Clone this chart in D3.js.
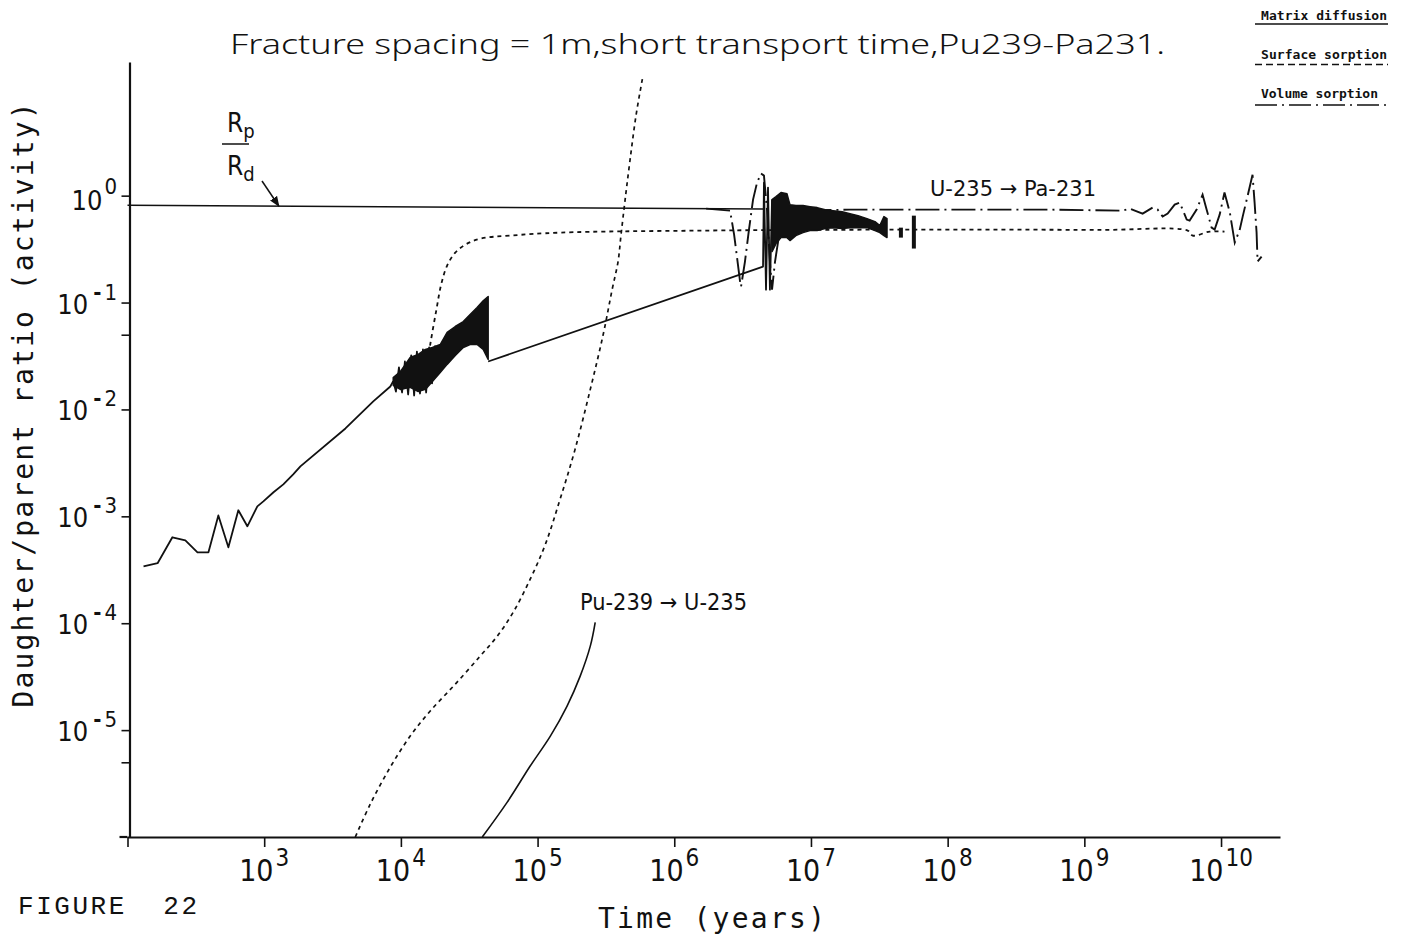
<!DOCTYPE html>
<html>
<head>
<meta charset="utf-8">
<script src="https://cdn.jsdelivr.net/npm/d3@7"></script>
<style>
  body { margin: 0; background: #fff; }
  svg { display: block; }
  text { fill: #111; }
</style>
</head>
<body>
<div id="container"></div>
<script>
/* CONSTANTS AND GLOBALS */
const width = 1407,
  height = 943,
  margin = { top: 62, bottom: 106, left: 127.5, right: 127 }

/* DATA — [time (years), daughter/parent ratio] */
const xTickExponents = [3, 4, 5, 6, 7, 8, 9, 10];
const yTickExponents = [0, -1, -2, -3, -4, -5];
const yMinorTicks = [5e-2, 5e-6];

// matrix diffusion, Pu239 -> Pa231, rising part
const matrixEarly = [
  [1.31e2, 3.41e-4], [1.66e2, 3.64e-4], [2.13e2, 6.37e-4], [2.65e2, 5.97e-4],
  [3.25e2, 4.61e-4], [3.91e2, 4.61e-4], [4.62e2, 1.02e-3], [5.47e2, 5.13e-4],
  [6.47e2, 1.14e-3], [7.53e2, 8.07e-4], [8.91e2, 1.24e-3], [9.86e2, 1.38e-3],
  [1.17e3, 1.68e-3], [1.38e3, 1.99e-3], [1.63e3, 2.47e-3], [1.84e3, 2.93e-3],
  [3.93e3, 6.64e-3], [6.28e3, 1.19e-2], [8.37e3, 1.64e-2], [8.79e3, 1.84e-2]
];
// start of the oscillation, individual swings
const matrixSwings = [
  [8.79e3, 1.84e-2], [9.20e3, 1.47e-2], [9.68e3, 2.47e-2], [1.02e4, 1.44e-2], [1.07e4, 2.81e-2],
  [1.13e4, 1.38e-2], [1.19e4, 3.20e-2], [1.25e4, 1.35e-2], [1.31e4, 3.48e-2], [1.38e4, 1.41e-2],
  [1.45e4, 3.64e-2], [1.53e4, 1.44e-2], [1.61e4, 3.80e-2], [1.69e4, 1.75e-2], [1.78e4, 3.96e-2]
];
// dense oscillation band: [time, low, high]
const matrixBand1 = [
  [8.79e3, 1.68e-2, 1.99e-2], [9.91e3, 1.54e-2, 2.26e-2], [1.17e4, 1.61e-2, 3.06e-2],
  [1.34e4, 1.47e-2, 3.27e-2], [1.51e4, 1.54e-2, 3.64e-2], [1.70e4, 1.83e-2, 3.80e-2],
  [1.94e4, 2.22e-2, 4.05e-2], [2.18e4, 2.64e-2, 5.25e-2], [2.50e4, 3.20e-2, 5.97e-2],
  [2.86e4, 3.80e-2, 6.64e-2], [3.21e4, 4.05e-2, 7.73e-2], [3.61e4, 4.05e-2, 8.98e-2],
  [4.00e4, 3.64e-2, 0.104], [4.35e4, 2.93e-2, 0.114]
];
const matrixLate = [
  [4.35e4, 2.81e-2], [4.46e6, 0.217], [4.53e6, 1.32], [4.69e6, 0.132],
  [4.85e6, 1.19], [5.01e6, 0.132], [5.19e6, 0.918]
];
const matrixBand2 = [
  [5.19e6, 0.300, 0.918], [5.55e6, 0.356, 0.979], [6.04e6, 0.405, 1.07], [6.68e6, 0.405, 1.04],
  [7.02e6, 0.380, 0.824], [7.76e6, 0.423, 0.807], [8.75e6, 0.451, 0.807], [9.84e6, 0.471, 0.789],
  [1.11e7, 0.471, 0.773], [1.27e7, 0.492, 0.740], [1.45e7, 0.502, 0.724], [1.69e7, 0.492, 0.708],
  [1.93e7, 0.502, 0.679], [2.21e7, 0.502, 0.650], [2.57e7, 0.502, 0.610], [2.94e7, 0.471, 0.572],
  [3.19e7, 0.451, 0.525], [3.42e7, 0.423, 0.637], [3.60e7, 0.405, 0.610]
];
const matrixBlobs = [[4.55e7, 0.405, 0.502], [5.66e7, 0.320, 0.650]];

// Rp/Rd reference line
const ratioLine = [[1e2, 0.812], [4.46e6, 0.751]];

// volume sorption, U-235 -> Pa-231
const volumeSorption = [
  [1.71e6, 0.756], [2.56e6, 0.724], [2.74e6, 0.432], [2.88e6, 0.263], [3.03e6, 0.157],
  [3.08e6, 0.141], [3.29e6, 0.242], [3.52e6, 0.481], [3.77e6, 0.918], [4.03e6, 1.32],
  [4.31e6, 1.61], [4.53e6, 1.54], [4.77e6, 0.740], [5.01e6, 0.242], [5.19e6, 0.132],
  [5.46e6, 0.242], [5.84e6, 0.423], [6.46e6, 0.623], [7.64e6, 0.724], [1.93e7, 0.740],
  [1.04e8, 0.740], [5.58e8, 0.740], [1.91e9, 0.724], [2.15e9, 0.756], [2.34e9, 0.724],
  [2.67e9, 0.679], [3.16e9, 0.773], [3.44e9, 0.740], [3.74e9, 0.637], [4.07e9, 0.679],
  [4.58e9, 0.824], [4.98e9, 0.860], [5.24e9, 0.740], [5.61e9, 0.597], [5.89e9, 0.584],
  [6.63e9, 0.740], [7.33e9, 1.02], [7.85e9, 0.740], [8.53e9, 0.502], [8.98e9, 0.481],
  [9.77e9, 0.664], [1.06e10, 1.07], [1.16e10, 0.694], [1.26e10, 0.364], [1.37e10, 0.481],
  [1.44e10, 0.637], [1.56e10, 0.979], [1.70e10, 1.57], [1.76e10, 0.860], [1.82e10, 0.451],
  [1.85e10, 0.242], [1.98e10, 0.269]
];

// surface sorption, Pu239 -> Pa231 plateau
const surfaceDaughter = [
  [1.51e4, 1.99e-2], [1.64e4, 4.05e-2], [1.82e4, 8.61e-2], [1.97e4, 0.147], [2.18e4, 0.222],
  [2.50e4, 0.293], [2.96e4, 0.348], [3.80e4, 0.396], [6.31e4, 0.423], [1.46e5, 0.451],
  [1.55e6, 0.471], [4.48e7, 0.481], [1.30e9, 0.478], [5.70e9, 0.471], [6.20e9, 0.423],
  [8.26e9, 0.461], [1.06e10, 0.461]
];
// surface sorption, Pu-239 -> U-235
const surfaceParent = [
  [4.64e3, 1e-6], [5.97e3, 2.03e-6], [8.37e3, 4.51e-6], [1.17e4, 8.79e-6], [1.64e4, 1.51e-5],
  [2.50e4, 2.69e-5], [3.80e4, 4.92e-5], [5.07e4, 7.57e-5], [6.64e4, 1.27e-4], [8.83e4, 2.58e-4],
  [1.14e5, 5.47e-4], [1.46e5, 1.44e-3], [1.88e5, 4.23e-3], [2.43e5, 1.54e-2], [3.02e5, 5.02e-2],
  [3.51e5, 0.132], [3.88e5, 0.242], [4.08e5, 0.432], [4.37e5, 0.918], [4.75e5, 2.17],
  [5.26e5, 5.71], [5.92e5, 13.5]
];
// matrix diffusion, Pu-239 -> U-235
const matrixParent = [
  [3.94e4, 1e-6], [6.00e4, 2.12e-6], [8.83e4, 4.61e-6], [1.24e5, 8.79e-6],
  [1.64e5, 1.67e-5], [2.05e5, 3.20e-5], [2.43e5, 6.10e-5], [2.64e5, 1.02e-4]
];

const legendItems = ["Matrix diffusion", "Surface sorption", "Volume sorption"];

/* SCALES */
const xScale = d3.scaleLog()
  .domain([1e2, 2.7e10])
  .range([margin.left, width - margin.right])

const yScale = d3.scaleLog()
  .domain([1e-6, 17.8])
  .range([height - margin.bottom, margin.top])

/* CREATE SVG ELEMENT */
const svg = d3.select("#container")
  .append("svg")
  .attr("width", width)
  .attr("height", height)

svg.append("rect").attr("width", width).attr("height", height).attr("fill", "#fff")

svg.append("defs").append("marker")
  .attr("id", "head")
  .attr("viewBox", "0 0 10 10")
  .attr("refX", 9).attr("refY", 5)
  .attr("markerWidth", 7).attr("markerHeight", 7)
  .attr("orient", "auto")
  .append("path")
  .attr("d", "M0,1 L10,5 L0,9 Z")
  .attr("fill", "#111")

const tickFont = "'Liberation Sans Narrow','DejaVu Sans Condensed','Arial Narrow',sans-serif";
const monoFont = "'DejaVu Sans Mono','Liberation Mono',monospace";

/* BUILD AND CALL AXES */
const xAxis = d3.axisBottom(xScale)
  .tickValues(xTickExponents.map(e => Math.pow(10, e)).concat([1e2]))
  .tickFormat("")
  .tickSize(10)
  .tickSizeOuter(0)

const yAxis = d3.axisLeft(yScale)
  .tickValues(yTickExponents.map(e => Math.pow(10, e)).concat(yMinorTicks))
  .tickFormat("")
  .tickSize(8)
  .tickSizeOuter(0)

const xAxisGroup = svg.append("g")
  .attr("class", "xAxis")
  .attr("transform", `translate(0, ${height - margin.bottom})`)
  .call(xAxis)

const yAxisGroup = svg.append("g")
  .attr("class", "yAxis")
  .attr("transform", `translate(${margin.left + 2}, 0)`)
  .call(yAxis)

svg.selectAll(".xAxis path, .yAxis path").attr("stroke", "#111").attr("stroke-width", 2.2)
svg.selectAll(".xAxis line, .yAxis line").attr("stroke", "#111").attr("stroke-width", 1.6)

// x-axis reaches a little left of the corner
svg.append("line")
  .attr("x1", margin.left - 8).attr("x2", margin.left)
  .attr("y1", height - margin.bottom).attr("y2", height - margin.bottom)
  .attr("stroke", "#111").attr("stroke-width", 2.2)

// power-of-ten labels
xTickExponents.forEach(e => {
  const t = svg.append("text")
    .attr("x", xScale(Math.pow(10, e)))
    .attr("y", 881)
    .attr("text-anchor", "middle")
    .attr("font-family", tickFont)
  t.append("tspan").attr("font-size", 30).text("10")
  t.append("tspan").attr("font-size", 24).attr("dx", 2).attr("dy", -15).text(e)
})

yTickExponents.forEach(e => {
  const t = svg.append("text")
    .attr("x", 117)
    .attr("y", yScale(Math.pow(10, e)) + (e === 0 ? 14 : 11))
    .attr("text-anchor", "end")
    .attr("font-family", tickFont)
  t.append("tspan").attr("font-size", 27).text("10")
  if (e < 0) {
    t.append("tspan").attr("font-size", 22).attr("font-weight", "bold")
      .attr("dx", 5).attr("dy", -14).text("-")
    t.append("tspan").attr("font-size", 22).attr("dx", 3).text(-e)
  } else {
    t.append("tspan").attr("font-size", 22).attr("dx", 2).attr("dy", -16).text(e)
  }
})

/* DRAW LINES */
const line = d3.line()
  .x(d => xScale(d[0]))
  .y(d => yScale(d[1]));

const smooth = d3.line()
  .x(d => xScale(d[0]))
  .y(d => yScale(d[1]))
  .curve(d3.curveCatmullRom);

const band = d3.area()
  .x(d => xScale(d[0]))
  .y0(d => yScale(d[1]))
  .y1(d => yScale(d[2]));

// surface sorption (dotted)
svg.append("path")
  .datum(surfaceParent)
  .attr("fill", "none").attr("stroke", "#111").attr("stroke-width", 1.7)
  .attr("stroke-dasharray", "4,4")
  .attr("d", smooth);

svg.append("path")
  .datum(surfaceDaughter)
  .attr("fill", "none").attr("stroke", "#111").attr("stroke-width", 1.8)
  .attr("stroke-dasharray", "4,4")
  .attr("d", smooth);

// Rp/Rd reference line
svg.append("path")
  .datum(ratioLine)
  .attr("fill", "none").attr("stroke", "#111").attr("stroke-width", 1.6)
  .attr("d", line);

// volume sorption (dash-dot)
svg.append("path")
  .datum(volumeSorption)
  .attr("fill", "none").attr("stroke", "#111").attr("stroke-width", 1.9)
  .attr("stroke-dasharray", "24,5,2,5")
  .attr("d", line);

// matrix diffusion (solid)
[matrixEarly, matrixSwings, matrixLate].forEach(series => {
  svg.append("path")
    .datum(series)
    .attr("fill", "none").attr("stroke", "#111").attr("stroke-width", 1.8)
    .attr("stroke-linejoin", "round")
    .attr("d", line);
});

[matrixBand1, matrixBand2].forEach(series => {
  svg.append("path")
    .datum(series)
    .attr("fill", "#111").attr("stroke", "#111").attr("stroke-width", 1.5)
    .attr("stroke-linejoin", "round")
    .attr("d", band);
});

svg.selectAll(".blob")
  .data(matrixBlobs)
  .join("line")
  .attr("class", "blob")
  .attr("x1", d => xScale(d[0])).attr("x2", d => xScale(d[0]))
  .attr("y1", d => yScale(d[1])).attr("y2", d => yScale(d[2]))
  .attr("stroke", "#111").attr("stroke-width", 4)

svg.append("path")
  .datum(matrixParent)
  .attr("fill", "none").attr("stroke", "#111").attr("stroke-width", 1.6)
  .attr("d", smooth);

/* ANNOTATIONS */
svg.append("text")
  .attr("x", 230).attr("y", 54)
  .attr("font-family", "'Noto Sans','DejaVu Sans',sans-serif")
  .attr("font-weight", 300)
  .attr("font-size", 27)
  .attr("textLength", 935)
  .attr("lengthAdjust", "spacingAndGlyphs")
  .text("Fracture spacing = 1m,short transport time,Pu239-Pa231.")

svg.append("text")
  .attr("transform", "translate(33, 405) rotate(-90)")
  .attr("text-anchor", "middle")
  .attr("font-family", monoFont)
  .attr("font-size", 28)
  .attr("textLength", 605)
  .attr("lengthAdjust", "spacing")
  .text("Daughter/parent ratio (activity)")

svg.append("text")
  .attr("x", 598).attr("y", 928)
  .attr("font-family", monoFont)
  .attr("font-size", 28)
  .attr("textLength", 227)
  .attr("lengthAdjust", "spacing")
  .text("Time (years)")

svg.append("text")
  .attr("x", 18).attr("y", 914)
  .attr("font-family", "'Liberation Mono','Courier New',monospace")
  .attr("font-size", 26)
  .attr("textLength", 179)
  .attr("lengthAdjust", "spacing")
  .text("FIGURE\u00a0\u00a022")

// Rp / Rd
const frac = svg.append("g").attr("font-family", tickFont)
const rp = frac.append("text").attr("x", 227).attr("y", 132)
rp.append("tspan").attr("font-size", 26).text("R")
rp.append("tspan").attr("font-size", 20).attr("dy", 6).text("p")
const rd = frac.append("text").attr("x", 227).attr("y", 175)
rd.append("tspan").attr("font-size", 26).text("R")
rd.append("tspan").attr("font-size", 20).attr("dy", 6).text("d")
frac.append("line")
  .attr("x1", 222).attr("x2", 249).attr("y1", 144).attr("y2", 144)
  .attr("stroke", "#111").attr("stroke-width", 1.5)

svg.append("line")
  .attr("x1", 262).attr("y1", 181)
  .attr("x2", xScale(1.28e3)).attr("y2", yScale(0.80))
  .attr("stroke", "#111").attr("stroke-width", 1.5)
  .attr("marker-end", "url(#head)")

svg.append("text")
  .attr("x", 930).attr("y", 196)
  .attr("font-family", tickFont)
  .attr("font-size", 22)
  .attr("textLength", 166)
  .attr("lengthAdjust", "spacingAndGlyphs")
  .text("U-235 \u2192 Pa-231")

svg.append("text")
  .attr("x", 580).attr("y", 610)
  .attr("font-family", tickFont)
  .attr("font-size", 23)
  .attr("textLength", 167)
  .attr("lengthAdjust", "spacingAndGlyphs")
  .text("Pu-239 \u2192 U-235")

/* LEGEND */
const dashes = ["none", "7,4", "22,5,2,5"];
legendItems.forEach((name, i) => {
  svg.append("text")
    .attr("x", 1261).attr("y", 20 + i * 39)
    .attr("font-family", monoFont)
    .attr("font-size", 13)
    .attr("font-weight", "bold")
    .attr("textLength", i === 2 ? 117 : 126)
    .attr("lengthAdjust", "spacing")
    .text(name)
  svg.append("line")
    .attr("x1", 1255).attr("x2", 1388)
    .attr("y1", 24 + i * 40.5).attr("y2", 24 + i * 40.5)
    .attr("stroke", "#111").attr("stroke-width", 1.3)
    .attr("stroke-dasharray", dashes[i])
})
</script>
</body>
</html>
